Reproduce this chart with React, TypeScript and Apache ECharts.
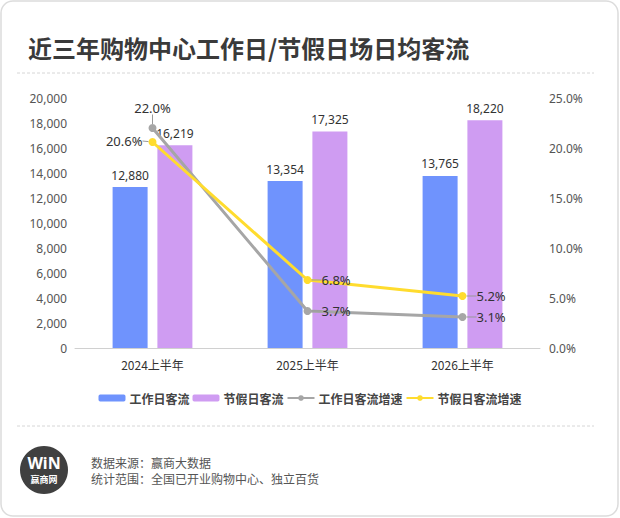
import React, { useEffect, useRef } from "react";
import * as echarts from "echarts";

const categories = ["2024上半年", "2025上半年", "2026上半年"];
const workdayFlow = [12880, 13354, 13765];
const holidayFlow = [16219, 17325, 18220];
const workdayGrowth = [22.0, 3.7, 3.1];
const holidayGrowth = [20.6, 6.8, 5.2];
const seriesNames = ["工作日客流", "节假日客流", "工作日客流增速", "节假日客流增速"];
const titleText = "近三年购物中心工作日/节假日场日均客流";
const sourceText = "数据来源：赢商大数据";
const scopeText = "统计范围：全国已开业购物中心、独立百货";

const FONT = '"Noto Sans", "Noto Sans CJK SC", sans-serif';
const CJK = '"Noto Sans CJK SC", "Noto Sans", sans-serif';

export default function App() {
  const ref = useRef<HTMLDivElement>(null);
  useEffect(() => {
    if (!ref.current) return;
    const chart = echarts.init(ref.current, undefined, { renderer: "svg" });
    const fmt = (v: number) => v.toLocaleString("en-US");
    chart.setOption({
      animation: false,
      backgroundColor: "#fff",
      textStyle: { fontFamily: FONT },
      graphic: [
        {
          type: "rect",
          shape: { x: 1, y: 1, width: 617, height: 515, r: 12 },
          style: { fill: "#fff", stroke: "#dcdcdc", lineWidth: 1.5 },
          z: -10,
        },
        {
          type: "text",
          x: 28,
          y: 47,
          style: {
            text: titleText,
            font: `bold 24px ${CJK}`,
            fill: "#3a3a3a",
            verticalAlign: "middle",
          },
        },
        {
          type: "line",
          shape: { x1: 17, y1: 73, x2: 594, y2: 73 },
          style: { stroke: "#d6d6d6", lineWidth: 1, lineDash: [3, 2] },
        },
        {
          type: "line",
          shape: { x1: 17, y1: 426, x2: 594, y2: 426 },
          style: { stroke: "#d6d6d6", lineWidth: 1, lineDash: [3, 2] },
        },
        {
          type: "circle",
          shape: { cx: 44, cy: 470, r: 24 },
          style: { fill: "#404040" },
        },
        {
          type: "text",
          x: 44,
          y: 463,
          style: {
            text: "WiN",
            font: `bold 16px ${FONT}`,
            fill: "#fff",
            align: "center",
            verticalAlign: "middle",
          },
        },
        {
          type: "text",
          x: 44,
          y: 479,
          style: {
            text: "赢商网",
            font: `bold 9px ${CJK}`,
            fill: "#fff",
            align: "center",
            verticalAlign: "middle",
          },
        },
        {
          type: "text",
          x: 91,
          y: 470,
          style: {
            text: sourceText + "\n" + scopeText,
            font: `12px ${CJK}`,
            lineHeight: 16,
            fill: "#555",
            verticalAlign: "middle",
          },
        },
      ],
      legend: {
        data: seriesNames,
        left: "center",
        top: 387,
        itemWidth: 27,
        itemHeight: 7,
        itemGap: 3,
        textStyle: {
          color: "#444",
          fontSize: 12,
          fontWeight: "bold",
          fontFamily: CJK,
          padding: [0, 0, 0, -1],
        },
      },
      grid: { left: 75, right: 80, top: 98, bottom: 170, containLabel: false },
      xAxis: {
        type: "category",
        data: categories,
        axisLine: { lineStyle: { color: "#d0d0d0", width: 1 } },
        axisTick: { show: false },
        axisLabel: { color: "#333", fontSize: 12, margin: 10, fontFamily: CJK },
      },
      yAxis: [
        {
          type: "value",
          min: 0,
          max: 20000,
          interval: 2000,
          splitLine: { show: false },
          axisLine: { show: false },
          axisTick: { show: false },
          axisLabel: { color: "#555", fontSize: 12, margin: 8, formatter: (v: number) => fmt(v) },
        },
        {
          type: "value",
          min: 0,
          max: 25,
          interval: 5,
          splitLine: { show: false },
          axisLine: { show: false },
          axisTick: { show: false },
          axisLabel: { color: "#555", fontSize: 12, margin: 9, formatter: (v: number) => v.toFixed(1) + "%" },
        },
      ],
      series: [
        {
          name: seriesNames[0],
          type: "bar",
          data: workdayFlow,
          barWidth: 35,
          barGap: "28%",
          itemStyle: { color: "#6f93fd" },
          label: {
            show: true,
            position: "top",
            distance: 6,
            color: "#333",
            fontSize: 12,
            formatter: (p: any) => fmt(p.value),
          },
        },
        {
          name: seriesNames[1],
          type: "bar",
          data: holidayFlow,
          barWidth: 35,
          itemStyle: { color: "#cf9cf2" },
          label: {
            show: true,
            position: "top",
            distance: 6,
            color: "#333",
            fontSize: 12,
            formatter: (p: any) => fmt(p.value),
          },
        },
        {
          name: seriesNames[2],
          type: "line",
          yAxisIndex: 1,
          data: workdayGrowth,
          symbol: "circle",
          symbolSize: 8,
          lineStyle: { color: "#a6a6a6", width: 3 },
          itemStyle: { color: "#a6a6a6" },
          z: 5,
          label: {
            show: true,
            position: "right",
            distance: 10,
            color: "#333",
            fontSize: 13,
            formatter: (p: any) => p.value.toFixed(1) + "%",
          },
          labelLine: { show: true, lineStyle: { color: "#999", width: 1 } },
          labelLayout: (params: any) => {
            if (params.dataIndex !== 0) return {};
            const cx = params.rect.x + params.rect.width / 2;
            const cy = params.rect.y + params.rect.height / 2;
            return { x: cx, y: cy - 20, align: "center", verticalAlign: "middle" };
          },
        },
        {
          name: seriesNames[3],
          type: "line",
          yAxisIndex: 1,
          data: holidayGrowth,
          symbol: "circle",
          symbolSize: 8,
          lineStyle: { color: "#ffdc2e", width: 3 },
          itemStyle: { color: "#ffdc2e" },
          z: 6,
          label: {
            show: true,
            position: "right",
            distance: 10,
            color: "#333",
            fontSize: 13,
            formatter: (p: any) => p.value.toFixed(1) + "%",
          },
          labelLine: { show: true, lineStyle: { color: "#999", width: 1 } },
          labelLayout: (params: any) => {
            if (params.dataIndex !== 0) return {};
            const cx = params.rect.x + params.rect.width / 2;
            const cy = params.rect.y + params.rect.height / 2;
            return { x: cx - 10, y: cy - 1, align: "right", verticalAlign: "middle" };
          },
        },
      ],
    });
    return () => chart.dispose();
  }, []);
  return (
    <div
      ref={ref}
      style={{ position: "absolute", left: 0, top: 0, width: 620, height: 518 }}
    />
  );
}
